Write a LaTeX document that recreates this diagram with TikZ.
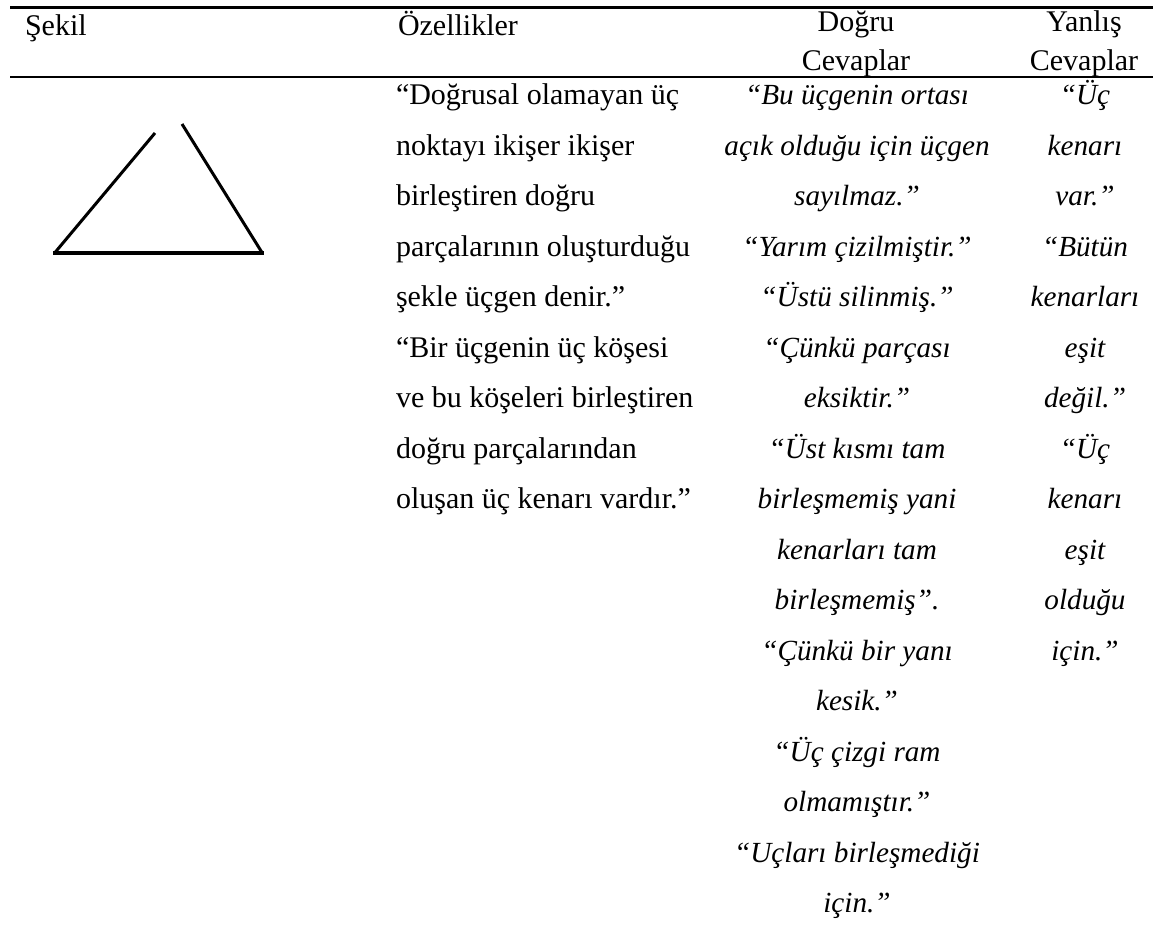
\documentclass[tikz,border=0pt]{standalone}
\usepackage{fontspec}
\setmainfont{Liberation Serif}
\begin{document}
\begin{tikzpicture}[x=1pt,y=-1pt,
  txt/.style={inner sep=0pt, outer sep=0pt, font=\fontsize{30}{36}\selectfont},
  ans/.style={txt, font=\fontsize{29.2}{36}\selectfont\itshape, anchor=base},
  rulestyle/.style={line width=2.3pt},
  sideline/.style={line width=3pt},
  baseline/.style={line width=4pt}]
\useasboundingbox (0,0) rectangle (1153,938);

% horizontal rules of the table
\coordinate (topL) at (10,7.5);
\coordinate (topR) at (1153,7.5);
\coordinate (midL) at (10,77);
\coordinate (midR) at (1153,77);
\draw[rulestyle] (topL) -- (topR);
\draw[rulestyle] (midL) -- (midR);

% header
\node[txt, anchor=base west] (hSekil) at (25,35) {Şekil};
\node[txt, anchor=base west] (hOzel) at (398,35) {Özellikler};
\node[txt, anchor=base] (hDogru1) at (856,31) {Doğru};
\node[txt, anchor=base] (hDogru2) at (856,70) {Cevaplar};
\node[txt, anchor=base] (hYanlis1) at (1084,31) {Yanlış};
\node[txt, anchor=base] (hYanlis2) at (1084,70) {Cevaplar};

% open triangle
\coordinate (tA) at (55,252.5);
\coordinate (tB) at (155,133);
\coordinate (tC) at (182,124);
\coordinate (tD) at (262,252.5);
\coordinate (tL) at (53,253);
\coordinate (tR) at (264,253);
\draw[sideline] (tA) -- (tB);
\draw[sideline] (tC) -- (tD);
\draw[baseline] (tL) -- (tR);

% properties column
\foreach \t [count=\i] in {{“Doğrusal olamayan üç},{noktayı ikişer ikişer},
  {birleştiren doğru},{parçalarının oluşturduğu},{şekle üçgen denir.”},
  {“Bir üçgenin üç köşesi},{ve bu köşeleri birleştiren},
  {doğru parçalarından},{oluşan üç kenarı vardır.”}}
  \node[txt, anchor=base west] (p\i) at (396,{104.5+50.5*(\i-1)}) {\t};

% correct answers column
\foreach \t [count=\i] in {{“Bu üçgenin ortası},{açık olduğu için üçgen},
  {sayılmaz.”},{“Yarım çizilmiştir.”},{“Üstü silinmiş.”},
  {“Çünkü parçası},{eksiktir.”},{“Üst kısmı tam},{birleşmemiş yani},
  {kenarları tam},{birleşmemiş”.},{“Çünkü bir yanı},{kesik.”},
  {“Üç çizgi ram},{olmamıştır.”},{“Uçları birleşmediği},{için.”}}
  \node[ans] (d\i) at (857,{104.5+50.5*(\i-1)}) {\t};

% wrong answers column
\foreach \t [count=\i] in {{“Üç},{kenarı},{var.”},{“Bütün},{kenarları},
  {eşit},{değil.”},{“Üç},{kenarı},{eşit},{olduğu},{için.”}}
  \node[ans] (y\i) at (1085,{104.5+50.5*(\i-1)}) {\t};
\end{tikzpicture}
\end{document}
